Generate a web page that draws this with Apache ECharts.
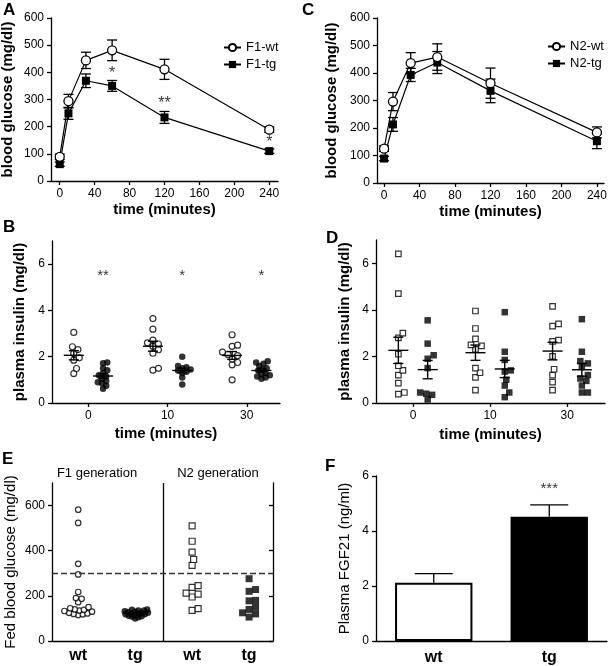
<!DOCTYPE html>
<html><head><meta charset="utf-8">
<script src="https://cdn.jsdelivr.net/npm/echarts@6/dist/echarts.min.js"></script>
<style>html,body{margin:0;padding:0;background:#fff}#c{width:609px;height:666px}</style>
</head><body><div id="c"></div>
<script>
// ---------- DATA ----------
const timePoints = [0, 10, 30, 60, 120, 240];
const timeTicks = [0, 40, 80, 120, 160, 200, 240];
const f1WtMean = [89, 294, 444, 481, 411, 189];
const f1WtSem  = [10, 25, 30, 38, 37, 10];
const f1TgMean = [62, 249, 369, 350, 234, 110];
const f1TgSem  = [8, 22, 25, 20, 22, 8];
const n2WtMean = [125, 296, 436, 458, 363, 184];
const n2WtSem  = [10, 33, 38, 48, 55, 20];
const n2TgMean = [89, 213, 393, 438, 335, 152];
const n2TgSem  = [8, 25, 24, 40, 43, 27];
const sigA = [[60, 410, '*'], [120, 300, '**'], [240, 157, '*']];

const insulinTimes = ['0', '10', '30'];
const f1InsWt = [
  [3.05, 2.43, 2.31, 2.14, 1.95, 1.85, 1.49, 1.27],
  [3.65, 3.19, 2.72, 2.6, 2.55, 2.45, 2.3, 2.15, 1.5, 1.42],
  [2.95, 2.5, 2.45, 2.2, 2.1, 2.05, 1.9, 1.75, 1.65, 1.0]
];
const f1InsTg = [
  [1.75, 1.72, 1.5, 1.42, 1.3, 1.2, 1.15, 1.05, 0.95, 0.9, 0.85, 0.75, 0.62],
  [2.0, 1.6, 1.55, 1.5, 1.45, 1.4, 1.35, 1.3, 1.1, 0.8],
  [1.8, 1.75, 1.7, 1.6, 1.5, 1.45, 1.4, 1.3, 1.25, 1.2, 1.15, 1.1, 1.05]
];
const sigB = [[0, 5.67, '**'], [1, 5.67, '*'], [2, 5.67, '*']];
const n2InsWt = [
  [6.4, 4.7, 3.0, 2.8, 2.1, 1.6, 1.4, 1.2, 0.85, 0.45, 0.38],
  [3.95, 3.2, 2.75, 2.5, 2.45, 2.3, 1.5, 1.3, 1.1, 0.55],
  [4.15, 3.4, 3.3, 2.7, 2.65, 2.0, 1.45, 1.2, 0.9, 0.55]
];
const n2InsTg = [
  [3.55, 2.55, 2.05, 1.9, 1.5, 0.45, 0.4, 0.35, 0.15],
  [3.9, 2.2, 1.85, 1.4, 1.35, 1.0, 0.75, 0.45, 0.25],
  [3.6, 2.2, 1.8, 1.7, 1.55, 1.2, 1.05, 0.95, 0.75, 0.45, 0.45]
];

const fedGroups = ['wt', 'tg', 'wt', 'tg'];
const fedGenerations = ['F1 generation', 'N2 generation'];
const fedF1Wt = [582, 523, 342, 295, 217, 190, 187, 172, 150, 145, 140, 138, 135, 133, 130, 125, 122, 120, 118, 115];
const fedF1Tg = [140, 138, 135, 135, 132, 130, 128, 125, 125, 122, 120, 118, 118, 115, 112, 110, 108, 105, 100];
const fedN2Wt = [510, 442, 394, 361, 335, 245, 238, 212, 208, 195, 143, 136];
const fedN2Tg = [276, 228, 220, 180, 178, 150, 140, 125, 120, 106];
const fedThreshold = 300;

const fgfGroups = ['wt', 'tg'];
const fgfMean = [2.12, 4.52];
const fgfSem = [0.33, 0.43];
const sigF = [[1, 5.67, '***']];

// ---------- HELPERS ----------
const FONT = '"Liberation Sans", Arial, Helvetica, sans-serif';
function isObj(v){return v && typeof v === 'object' && !Array.isArray(v);}
function merge(a, b){
  const out = Object.assign({}, a);
  for (const k in b){
    out[k] = (isObj(a[k]) && isObj(b[k])) ? merge(a[k], b[k]) : b[k];
  }
  return out;
}
const baseAxis = {
  axisLine: {show: true, onZero: false, lineStyle: {color: '#000', width: 1.3}},
  axisTick: {show: true, length: 4, lineStyle: {color: '#000', width: 1.3}},
  axisLabel: {color: '#000', fontSize: 12, fontFamily: FONT, margin: 7},
  splitLine: {show: false},
  nameLocation: 'middle',
  nameTextStyle: {color: '#000', fontSize: 15, fontWeight: 'bold', fontFamily: FONT}
};
const ax = o => merge(baseAxis, o);

function mean(a){return a.reduce((s,v)=>s+v,0)/a.length;}
function sem(a){const m=mean(a);const v=a.reduce((s,x)=>s+(x-m)*(x-m),0)/(a.length-1);return Math.sqrt(v/a.length);}

// beeswarm placement in pixel space, returned in data coordinates
function swarm(vals, cx, kx, ky, d){
  const placed = [], out = [];
  const order = vals.slice().sort((a,b)=>a-b);
  const step = d * 0.25;
  for (const v of order){
    const py = v * ky;
    let off = 0;
    for (let n = 0; n < 400; n++){
      off = n === 0 ? 0 : (n % 2 ? 1 : -1) * Math.ceil(n/2) * step;
      if (placed.every(p => Math.hypot(p[0]-off, p[1]-py) >= d)) break;
    }
    placed.push([off, py]);
    out.push([cx + off / kx, v]);
  }
  return out;
}

function errRender(cap, upperOnly){
  return (params, api) => {
    const x = api.value(0), m = api.value(1), e = api.value(2);
    const t = api.coord([x, m + e]), b = api.coord(upperOnly ? [x, m] : [x, m - e]);
    const st = {stroke: '#000', lineWidth: 1.3};
    const ch = [
      {type:'line', shape:{x1:t[0], y1:t[1], x2:b[0], y2:b[1]}, style: st},
      {type:'line', shape:{x1:t[0]-cap, y1:t[1], x2:t[0]+cap, y2:t[1]}, style: st}
    ];
    if (!upperOnly) ch.push({type:'line', shape:{x1:b[0]-cap, y1:b[1], x2:b[0]+cap, y2:b[1]}, style: st});
    return {type:'group', children: ch};
  };
}
function meanSemRender(halfMean, cap){
  return (params, api) => {
    const x = api.value(0), m = api.value(1), e = api.value(2);
    const c = api.coord([x, m]), t = api.coord([x, m + e]), b = api.coord([x, m - e]);
    const st = {stroke: '#000', lineWidth: 1.4};
    return {type:'group', children: [
      {type:'line', shape:{x1:c[0]-halfMean, y1:c[1], x2:c[0]+halfMean, y2:c[1]}, style: st},
      {type:'line', shape:{x1:t[0], y1:t[1], x2:b[0], y2:b[1]}, style: st},
      {type:'line', shape:{x1:t[0]-cap, y1:t[1], x2:t[0]+cap, y2:t[1]}, style: st},
      {type:'line', shape:{x1:b[0]-cap, y1:b[1], x2:b[0]+cap, y2:b[1]}, style: st}
    ]};
  };
}
function sigSeries(xi, yi, data, size){
  return {type:'scatter', xAxisIndex: xi, yAxisIndex: yi, data: data, symbolSize: 1,
    itemStyle: {color: 'rgba(0,0,0,0)'}, silent: true, z: 5,
    label: {show: true, position: 'inside', offset: [0, 4], formatter: p => p.value[2],
      color: '#000', fontSize: size, fontFamily: FONT}};
}

// ---------- LAYOUT ----------
const G = {
  A: {left: 51, top: 18, width: 227, height: 163},
  C: {left: 377, top: 18, width: 227, height: 165},
  B: {left: 52, top: 241, width: 228, height: 162},
  D: {left: 376, top: 240, width: 229, height: 163},
  E: {left: 52, top: 483, width: 221, height: 158},
  F: {left: 376, top: 476, width: 231, height: 165}
};
const bX = [-0.46, 2.42], dX = [-0.48, 2.49], eX = [-0.46, 3.42];
const kB = [G.B.width/(bX[1]-bX[0]), G.B.height/7];
const kD = [G.D.width/(dX[1]-dX[0]), G.D.height/7];
const kE = [G.E.width/(eX[1]-eX[0]), G.E.height/700];
const GOFF = 0.185;

const grids = ['A','C','B','D','E','F'].map(k => Object.assign({outerBoundsMode: 'none', containLabel: false}, G[k]));

const xAxes = [
  ax({gridIndex: 0, type: 'value', min: -10, max: 250, name: 'time (minutes)', nameGap: 21,
      axisTick: {customValues: timeTicks}, axisLabel: {customValues: timeTicks}}),
  ax({gridIndex: 1, type: 'value', min: -8, max: 248, name: 'time (minutes)', nameGap: 21,
      axisTick: {customValues: timeTicks}, axisLabel: {customValues: timeTicks}}),
  ax({gridIndex: 2, type: 'value', min: bX[0], max: bX[1], name: 'time (minutes)', nameGap: 23,
      axisTick: {customValues: [0,1,2]}, axisLabel: {customValues: [0,1,2], formatter: v => insulinTimes[Math.round(v)]}}),
  ax({gridIndex: 3, type: 'value', min: dX[0], max: dX[1], name: 'time (minutes)', nameGap: 24,
      axisTick: {customValues: [0,1,2]}, axisLabel: {customValues: [0,1,2], formatter: v => insulinTimes[Math.round(v)]}}),
  ax({gridIndex: 4, type: 'value', min: eX[0], max: eX[1],
      axisTick: {show: false}, axisLabel: {customValues: [0,1,2,3], formatter: v => fedGroups[Math.round(v)],
      fontSize: 16, fontWeight: 'bold', margin: 7}}),
  ax({gridIndex: 5, type: 'category', data: fgfGroups,
      axisTick: {show: false}, axisLabel: {fontSize: 16, fontWeight: 'bold', margin: 9}})
];
const yAxes = [
  ax({gridIndex: 0, type: 'value', min: 0, max: 600, interval: 100, name: 'blood glucose (mg/dl)', nameGap: 36}),
  ax({gridIndex: 1, type: 'value', min: 0, max: 600, interval: 100, name: 'blood glucose (mg/dl)', nameGap: 38}),
  ax({gridIndex: 2, type: 'value', min: 0, max: 7, name: 'plasma insulin (mg/dl)', nameGap: 25,
      axisTick: {customValues: [0,2,4,6]}, axisLabel: {customValues: [0,2,4,6]}}),
  ax({gridIndex: 3, type: 'value', min: 0, max: 7, name: 'plasma insulin (mg/dl)', nameGap: 24,
      axisTick: {customValues: [0,2,4,6]}, axisLabel: {customValues: [0,2,4,6]}}),
  ax({gridIndex: 4, type: 'value', min: 0, max: 700, name: 'Fed blood glucose (mg/dl)', nameGap: 34,
      nameTextStyle: {fontWeight: 'normal', fontSize: 15},
      axisTick: {customValues: [0,200,400,600]}, axisLabel: {customValues: [0,200,400,600]}}),
  ax({gridIndex: 4, type: 'value', position: 'right', min: 0, max: 700,
      axisTick: {inside: true, customValues: [0,200,400,600]}, axisLabel: {show: false}}),
  ax({gridIndex: 5, type: 'value', min: 0, max: 6, interval: 2, name: 'Plasma FGF21 (ng/ml)', nameGap: 24,
      nameTextStyle: {fontWeight: 'normal', fontSize: 15}})
];

const zip3 = (x, m, e) => x.map((v, i) => [v, m[i], e[i]]);
const series = [];

// Panels A and C
function glucosePanel(idx, wtName, tgName, wtM, wtE, tgM, tgE){
  series.push({type:'custom', xAxisIndex: idx, yAxisIndex: idx, renderItem: errRender(5, false),
    data: zip3(timePoints, wtM, wtE), encode: {x: 0, y: 1}, z: 1, silent: true});
  series.push({type:'custom', xAxisIndex: idx, yAxisIndex: idx, renderItem: errRender(5, false),
    data: zip3(timePoints, tgM, tgE), encode: {x: 0, y: 1}, z: 1, silent: true});
  series.push({type:'line', name: tgName, xAxisIndex: idx, yAxisIndex: idx,
    data: timePoints.map((t,i)=>[t, tgM[i]]), symbol: 'rect', symbolSize: 8,
    itemStyle: {color: '#000'}, lineStyle: {color: '#000', width: 1.2}, z: 3});
  series.push({type:'line', name: wtName, xAxisIndex: idx, yAxisIndex: idx,
    data: timePoints.map((t,i)=>[t, wtM[i]]), symbol: 'circle', symbolSize: 9,
    itemStyle: {color: '#fff', borderColor: '#000', borderWidth: 1.3},
    lineStyle: {color: '#000', width: 1.2}, z: 4});
}
glucosePanel(0, 'F1-wt', 'F1-tg', f1WtMean, f1WtSem, f1TgMean, f1TgSem);
glucosePanel(1, 'N2-wt', 'N2-tg', n2WtMean, n2WtSem, n2TgMean, n2TgSem);
series.push(sigSeries(0, 0, sigA, 16));

// Panels B and D
function insulinPanel(idx, wtGroups, tgGroups, k, wtSym, tgSym, wtStyle, tgStyle, off, dWt, dTg){
  const wtPts = [], tgPts = [], stats = [];
  wtGroups.forEach((g, i) => {
    wtPts.push(...swarm(g, i - off, k[0], k[1], dWt));
    stats.push([i - off, mean(g), sem(g)]);
  });
  tgGroups.forEach((g, i) => {
    tgPts.push(...swarm(g, i + off, k[0], k[1], dTg));
    stats.push([i + off, mean(g), sem(g)]);
  });
  series.push({type:'scatter', xAxisIndex: idx, yAxisIndex: idx, data: wtPts, symbol: wtSym.symbol,
    symbolSize: wtSym.size, itemStyle: wtStyle, z: 2});
  series.push({type:'scatter', xAxisIndex: idx, yAxisIndex: idx, data: tgPts, symbol: tgSym.symbol,
    symbolSize: tgSym.size, itemStyle: tgStyle, z: 2});
  series.push({type:'custom', xAxisIndex: idx, yAxisIndex: idx, renderItem: meanSemRender(10, 5),
    data: stats, encode: {x: 0, y: 1}, z: 4, silent: true});
}
const openStyle = {color: '#fff', borderColor: '#000', borderWidth: 1.2};
const fillStyle = {color: '#000'};
insulinPanel(2, f1InsWt, f1InsTg, kB, {symbol:'circle', size:6}, {symbol:'circle', size:6.5}, openStyle, fillStyle, GOFF, 5.5, 4.2);
series.push(sigSeries(2, 2, sigB.map(s => [s[0] + GOFF, s[1], s[2]]), 15));
insulinPanel(3, n2InsWt, n2InsTg, kD, {symbol:'rect', size:5.5}, {symbol:'rect', size:6.5}, openStyle, fillStyle, 0.19, 6, 6);

// Panel E
const eSets = [
  {vals: fedF1Wt, sym: 'circle', size: 5.5, style: openStyle, d: 4.6},
  {vals: fedF1Tg, sym: 'circle', size: 6.5, style: fillStyle, d: 3.2},
  {vals: fedN2Wt, sym: 'rect', size: 6, style: openStyle, d: 6},
  {vals: fedN2Tg, sym: 'rect', size: 7, style: fillStyle, d: 6.5}
];
eSets.forEach((s, i) => {
  const ser = {type:'scatter', xAxisIndex: 4, yAxisIndex: 4, data: swarm(s.vals, i, kE[0], kE[1], s.d),
    symbol: s.sym, symbolSize: s.size, itemStyle: s.style, z: 3};
  if (i === 0){
    ser.markLine = {silent: true, symbol: ['none','none'], label: {show: false}, animation: false,
      data: [
        {xAxis: 1.5, lineStyle: {color: '#000', width: 1.3, type: 'solid'}},
        {yAxis: fedThreshold, lineStyle: {color: '#333', width: 1.3, type: [6, 3]}}
      ]};
  }
  series.push(ser);
});

// Panel F
series.push({type:'bar', xAxisIndex: 5, yAxisIndex: 6, barWidth: '67%',
  data: fgfMean.map((v, i) => ({value: v, itemStyle: i === 0 ?
    {color: '#fff', borderColor: '#000', borderWidth: 2} : {color: '#000', borderColor: '#000', borderWidth: 2}})),
  z: 2});
series.push({type:'custom', xAxisIndex: 5, yAxisIndex: 6, renderItem: errRender(19, true),
  data: fgfMean.map((v, i) => [i, v, fgfSem[i]]), encode: {x: 0, y: 1}, z: 1, silent: true});
series.push(sigSeries(5, 6, sigF, 15));

// ---------- OPTION ----------
const legendBase = {orient: 'vertical', itemGap: 4, itemWidth: 17, itemHeight: 9,
  textStyle: {color: '#000', fontSize: 13, fontFamily: FONT}, padding: 0};
const panelLabel = (t, x, y) => ({type: 'text', left: x, top: y,
  style: {text: t, font: 'bold 17px ' + FONT, fill: '#000'}});
const option = {
  animation: false,
  backgroundColor: '#fff',
  grid: grids,
  xAxis: xAxes,
  yAxis: yAxes,
  legend: [
    Object.assign({data: ['F1-wt', 'F1-tg'], left: 223, top: 41}, legendBase),
    Object.assign({data: ['N2-wt', 'N2-tg'], left: 547, top: 40}, legendBase)
  ],
  graphic: [
    panelLabel('A', 3, 2), panelLabel('C', 302, 2),
    panelLabel('B', 3, 219), panelLabel('D', 326, 230),
    panelLabel('E', 2, 451), panelLabel('F', 325, 458),
    {type: 'text', x: 97, y: 473, style: {text: fedGenerations[0], font: '13px ' + FONT, fill: '#000',
      align: 'center', verticalAlign: 'middle'}},
    {type: 'text', x: 218, y: 473, style: {text: fedGenerations[1], font: '13px ' + FONT, fill: '#000',
      align: 'center', verticalAlign: 'middle'}}
  ],
  series: series
};
const chart = echarts.init(document.getElementById('c'), null, {renderer: 'canvas'});
chart.setOption(option);
</script>
</body></html>
